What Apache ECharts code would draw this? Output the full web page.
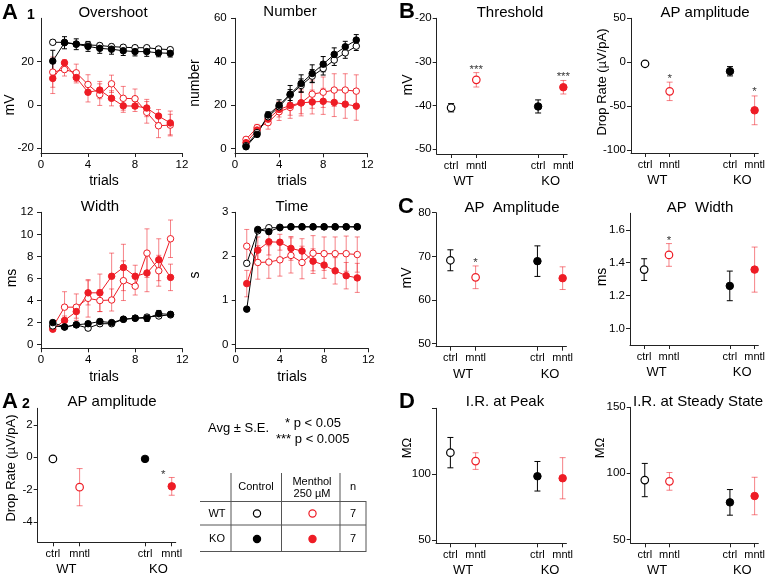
<!DOCTYPE html>
<html><head><meta charset="utf-8">
<script src="https://cdn.jsdelivr.net/npm/echarts@6/dist/echarts.min.js"></script>
<style>html,body{margin:0;padding:0;background:#fff}#c{width:768px;height:579px}</style>
</head><body><div id="c"></div>
<script>
// ---------------- DATA ----------------
const TRIALS = [1,2,3,4,5,6,7,8,9,10,11];

const overshootWTctrl   = [28.9, 28.9, 28.1, 27.7, 27.4, 26.9, 26.6, 26.4, 26.4, 25.8, 25.5];
const overshootWTctrlSE = [1.0, 1.0, 1.0, 1.0, 1.0, 1.0, 1.0, 1.0, 1.0, 1.0, 1.0];
const overshootKOctrl   = [20.2, 28.7, 28.0, 27.0, 26.1, 25.7, 25.0, 24.6, 24.6, 24.0, 23.8];
const overshootKOctrlSE = [5.0, 2.8, 2.5, 2.3, 2.3, 2.3, 2.2, 2.0, 2.2, 1.8, 1.7];
const overshootWTmntl   = [15.1, 16.3, 14.8, 9.4, 4.7, 9.7, 3.0, 2.8, -3.5, -9.7, -9.4];
const overshootWTmntlSE = [7.0, 3.0, 4.0, 4.5, 5.0, 4.0, 5.5, 4.5, 5.0, 5.5, 5.0];
const overshootKOmntl   = [12.2, 19.4, 12.6, 5.8, 6.8, 3.0, -0.5, -0.6, -1.5, -5.2, -8.4];
const overshootKOmntlSE = [7.0, 1.5, 2.5, 4.5, 4.0, 3.5, 3.0, 2.5, 4.0, 3.0, 5.5];

const numberWTctrl   = [1.4, 7.4, 14.7, 19.3, 24.7, 29.1, 33.4, 36.9, 40.8, 44.1, 47.2];
const numberWTctrlSE = [0.5, 1.0, 1.5, 2.0, 2.5, 3.0, 3.0, 3.0, 2.5, 2.5, 2.0];
const numberKOctrl   = [0.9, 6.6, 15.5, 20.0, 25.1, 30.0, 34.6, 38.9, 43.4, 46.9, 50.0];
const numberKOctrlSE = [0.5, 1.0, 1.5, 2.5, 4.0, 4.0, 4.0, 3.5, 3.0, 2.5, 2.5];
const numberWTmntl   = [4.3, 9.7, 12.0, 17.0, 19.0, 21.1, 25.1, 26.0, 27.0, 27.0, 26.5];
const numberWTmntlSE = [1.0, 1.5, 3.0, 4.0, 5.0, 6.0, 6.5, 7.0, 7.5, 7.5, 7.5];
const numberKOmntl   = [2.8, 8.6, 13.6, 18.1, 19.9, 21.1, 21.5, 21.8, 21.3, 20.5, 19.6];
const numberKOmntlSE = [1.0, 1.5, 2.5, 3.5, 4.5, 5.0, 5.5, 6.0, 6.5, 6.5, 6.5];

const widthWTctrl   = [1.7, 1.6, 1.8, 1.5, 1.9, 1.9, 2.3, 2.4, 2.5, 2.6, 2.7];
const widthWTctrlSE = [0.2, 0.2, 0.2, 0.2, 0.2, 0.2, 0.2, 0.2, 0.2, 0.2, 0.2];
const widthKOctrl   = [2.0, 1.6, 1.8, 1.9, 2.1, 2.0, 2.3, 2.4, 2.4, 2.8, 2.75];
const widthKOctrlSE = [0.2, 0.2, 0.2, 0.2, 0.2, 0.2, 0.2, 0.2, 0.3, 0.3, 0.2];
const widthWTmntl   = [1.6, 3.4, 3.4, 4.2, 4.0, 4.05, 5.8, 5.3, 8.3, 6.7, 9.6];
const widthWTmntlSE = [0.3, 1.4, 1.2, 1.7, 1.0, 1.0, 1.8, 0.8, 2.2, 1.4, 1.7];
const widthKOmntl   = [1.4, 2.2, 3.0, 4.7, 4.7, 6.2, 7.0, 6.2, 6.5, 7.7, 6.1];
const widthKOmntlSE = [0.2, 0.4, 0.6, 1.1, 1.7, 2.1, 2.1, 1.0, 1.7, 1.9, 1.2];

const timeWTctrl   = [1.84, 2.58, 2.65, 2.65, 2.67, 2.67, 2.67, 2.67, 2.67, 2.67, 2.67];
const timeWTctrlSE = [0.05, 0.03, 0.02, 0.02, 0.02, 0.02, 0.02, 0.02, 0.02, 0.02, 0.02];
const timeKOctrl   = [0.80, 2.61, 2.56, 2.66, 2.67, 2.67, 2.67, 2.67, 2.67, 2.67, 2.67];
const timeKOctrlSE = [0.03, 0.03, 0.03, 0.02, 0.02, 0.02, 0.02, 0.02, 0.02, 0.02, 0.02];
const timeWTmntl   = [2.23, 1.86, 1.87, 1.92, 2.02, 1.86, 2.07, 2.06, 2.06, 2.06, 2.04];
const timeWTmntlSE = [0.38, 0.38, 0.37, 0.37, 0.40, 0.37, 0.40, 0.38, 0.38, 0.40, 0.40];
const timeKOmntl   = [1.38, 2.14, 2.33, 2.32, 2.18, 2.12, 1.89, 1.80, 1.67, 1.56, 1.51];
const timeKOmntlSE = [0.30, 0.30, 0.30, 0.18, 0.27, 0.28, 0.28, 0.30, 0.30, 0.30, 0.33];

// summary panels: order = WT ctrl, WT mntl, KO ctrl, KO mntl
const CONDITIONS = ['ctrl', 'mntl', 'ctrl', 'mntl'];
const GENOTYPES = ['WT', 'KO'];

const a2Mean = [-0.1, -1.85, -0.1, -1.8];
const a2SE   = [0.05, 1.15, 0.05, 0.55];
const a2StarX = [5.13];
const a2StarY = [-0.89];
const a2StarText = ['*'];

const thresholdMean = [-40.5, -34.1, -40.2, -35.8];
const thresholdSE   = [0.95, 1.65, 1.5, 1.55];
const thresholdStarY = [null, -31.1, null, -32.7];
const thresholdStarText = ['', '***', '', '***'];

const dropMean = [-1.8, -33.2, -10.3, -54.8];
const dropSE   = [1.0, 10.5, 5.3, 16.4];
const dropStarY = [null, -15.0, null, -30.2];
const dropStarText = ['', '*', '', '*'];

const ampMean = [69.1, 65.2, 68.9, 65.0];
const ampSE   = [2.4, 2.6, 3.5, 2.6];
const ampStarY = [null, 69.3, null, null];
const ampStarText = ['', '*', '', ''];

const apWidthMean = [1.358, 1.447, 1.259, 1.358];
const apWidthSE   = [0.066, 0.069, 0.09, 0.137];
const apWidthStarY = [null, 1.55, null, null];
const apWidthStarText = ['', '*', '', ''];

const irPeakMean = [116.4, 110.0, 98.5, 97.0];
const irPeakSE   = [11.5, 6.3, 11.2, 15.6];

const irSteadyMean = [94.9, 93.9, 78.0, 82.8];
const irSteadySE   = [12.6, 6.7, 9.7, 14.2];

// ---------------- STYLE / LAYOUT ----------------
const FONT = '"Liberation Sans", Arial, sans-serif';
const RED = '#ee1c25';
const RED_ERR = 'rgba(238,28,37,0.55)';
const BLK = '#000';
const AX = '#222';
const X_POS = [1, 2, 4.45, 5.45];
const GROUP_POS = [1.5, 4.95];
const XMIN = 0.43, XMAX = 5.6;

const grids = [], xAxes = [], yAxes = [], series = [], graphics = [];

function nearestIdx(arr, v) {
  let b = 0;
  arr.forEach((a, i) => { if (Math.abs(a - v) < Math.abs(arr[b] - v)) b = i; });
  return b;
}

function errSeries(xi, yi, xs, mean, se, colors, cap) {
  return {
    type: 'custom', xAxisIndex: xi, yAxisIndex: yi, silent: true, animation: false, z: 2,
    data: xs.map((x, i) => [x, mean[i] - se[i], mean[i] + se[i], i]),
    encode: { x: 0, y: [1, 2] },
    renderItem: (params, api) => {
      const x = api.value(0);
      const p1 = api.coord([x, api.value(1)]);
      const p2 = api.coord([x, api.value(2)]);
      const col = Array.isArray(colors) ? colors[api.value(3)] : colors;
      const st = { stroke: col, lineWidth: 1 };
      return { type: 'group', children: [
        { type: 'line', shape: { x1: p1[0], y1: p1[1], x2: p2[0], y2: p2[1] }, style: st },
        { type: 'line', shape: { x1: p1[0] - cap, y1: p1[1], x2: p1[0] + cap, y2: p1[1] }, style: st },
        { type: 'line', shape: { x1: p2[0] - cap, y1: p2[1], x2: p2[0] + cap, y2: p2[1] }, style: st }
      ]};
    }
  };
}

function yAxisDef(gi, p) {
  return {
    gridIndex: gi, type: 'value', min: p.ymin, max: p.ymax, offset: p.yoff || 0,
    axisLine: { show: true, lineStyle: { color: AX, width: 1 } },
    axisTick: { show: true, length: 4, customValues: p.ticks, lineStyle: { color: AX } },
    axisLabel: { customValues: p.labels || p.ticks, margin: 5, fontSize: 11.5, color: '#000', fontFamily: FONT,
      formatter: v => p.dec ? v.toFixed(p.dec) : String(v) },
    splitLine: { show: false }
  };
}

function linePanel(p) {
  const gi = grids.length;
  grids.push({ left: p.left, top: p.top, width: p.width, height: p.height });
  const xi = xAxes.length;
  xAxes.push({
    gridIndex: gi, type: 'value', min: 0, max: 12, interval: 4,
    axisLine: { show: true, onZero: false, lineStyle: { color: AX, width: 1 } },
    axisTick: { show: true, length: 4, lineStyle: { color: AX } },
    axisLabel: { margin: 6, fontSize: 11.5, color: '#000', fontFamily: FONT },
    splitLine: { show: false }
  });
  const yi = yAxes.length;
  yAxes.push(yAxisDef(gi, p));
  p.groups.forEach(g => {
    series.push(errSeries(xi, yi, TRIALS, g.vals, g.se, g.red ? RED_ERR : BLK, 2.5));
    series.push({
      type: 'line', xAxisIndex: xi, yAxisIndex: yi, animation: false, z: 2,
      data: TRIALS.map((t, i) => [t, g.vals[i]]),
      symbol: 'circle', symbolSize: 6.5, showSymbol: true,
      lineStyle: { color: g.red ? RED : BLK, width: 1 },
      itemStyle: { color: g.open ? '#fff' : (g.red ? RED : BLK), borderColor: g.red ? RED : BLK, borderWidth: 1, opacity: 1 }
    });
  });
}

const PT_STYLE = [
  { color: '#fff', borderColor: BLK, borderWidth: 1.2, opacity: 1 },
  { color: '#fff', borderColor: RED, borderWidth: 1.2, opacity: 1 },
  { color: BLK, borderColor: BLK, borderWidth: 1, opacity: 1 },
  { color: RED, borderColor: RED, borderWidth: 1, opacity: 1 }
];
const ERR_COL = [BLK, RED_ERR, BLK, RED_ERR];

function dotPanel(p) {
  const gi = grids.length;
  const w = (XMAX - XMIN) * p.unit;
  grids.push({ left: p.left, top: p.top, width: w, height: p.height });
  const xi = xAxes.length;
  xAxes.push({
    gridIndex: gi, type: 'value', min: XMIN, max: XMAX,
    axisLine: { show: true, onZero: false, lineStyle: { color: AX, width: 1 } },
    axisTick: { show: true, length: 4, customValues: X_POS, lineStyle: { color: AX } },
    axisLabel: { customValues: X_POS, formatter: v => CONDITIONS[nearestIdx(X_POS, v)], margin: 6, fontSize: 11, color: '#000', fontFamily: FONT },
    splitLine: { show: false }
  });
  xAxes.push({
    gridIndex: gi, type: 'value', min: XMIN, max: XMAX, position: 'bottom', offset: 14,
    axisLine: { show: false }, axisTick: { show: false },
    axisLabel: { customValues: GROUP_POS, formatter: v => GENOTYPES[nearestIdx(GROUP_POS, v)], margin: 7, fontSize: 13, color: '#000', fontFamily: FONT },
    splitLine: { show: false }
  });
  const yi = yAxes.length;
  yAxes.push(yAxisDef(gi, p));
  series.push(errSeries(xi, yi, X_POS, p.mean, p.se, ERR_COL, 3));
  series.push({
    type: 'scatter', xAxisIndex: xi, yAxisIndex: yi, animation: false, z: 3, symbol: 'circle', symbolSize: 7.5,
    data: X_POS.map((x, i) => ({ value: [x, p.mean[i]], itemStyle: PT_STYLE[i] }))
  });
  if (p.starX) {
    series.push({
      type: 'scatter', xAxisIndex: xi, yAxisIndex: yi, animation: false, z: 4, symbolSize: 0,
      data: p.starX.map((x, i) => p.starY[i] == null ? null : ({ value: [x, p.starY[i]], label: { formatter: p.starText[i] } })).filter(d => d),
      label: { show: true, position: 'inside', offset: [0, 3], fontSize: 11.5, color: '#000', fontFamily: FONT }
    });
  }
}

// ---------------- PANELS ----------------
linePanel({ left: 41, top: 18.3, width: 141, height: 134.7, ymin: -22.3, ymax: 40, yoff: 2, ticks: [-20, 0, 20],
  groups: [
    { vals: overshootWTmntl, se: overshootWTmntlSE, red: true, open: true },
    { vals: overshootKOmntl, se: overshootKOmntlSE, red: true, open: false },
    { vals: overshootWTctrl, se: overshootWTctrlSE, red: false, open: true },
    { vals: overshootKOctrl, se: overshootKOctrlSE, red: false, open: false }
  ]});
linePanel({ left: 235, top: 18.3, width: 132.3, height: 135, ymin: -2.1, ymax: 60, yoff: 3.3, ticks: [0, 20, 40, 60],
  groups: [
    { vals: numberWTmntl, se: numberWTmntlSE, red: true, open: true },
    { vals: numberKOmntl, se: numberKOmntlSE, red: true, open: false },
    { vals: numberWTctrl, se: numberWTctrlSE, red: false, open: true },
    { vals: numberKOctrl, se: numberKOctrlSE, red: false, open: false }
  ]});
linePanel({ left: 41, top: 212.3, width: 141.3, height: 136, ymin: -0.33, ymax: 12, yoff: 2.7, ticks: [0, 2, 4, 6, 8, 10, 12],
  groups: [
    { vals: widthWTmntl, se: widthWTmntlSE, red: true, open: true },
    { vals: widthKOmntl, se: widthKOmntlSE, red: true, open: false },
    { vals: widthWTctrl, se: widthWTctrlSE, red: false, open: true },
    { vals: widthKOctrl, se: widthKOctrlSE, red: false, open: false }
  ]});
linePanel({ left: 235.7, top: 212.3, width: 132.6, height: 136, ymin: -0.09, ymax: 3, yoff: 2.4, ticks: [0, 1, 2, 3],
  groups: [
    { vals: timeWTmntl, se: timeWTmntlSE, red: true, open: true },
    { vals: timeKOmntl, se: timeKOmntlSE, red: true, open: false },
    { vals: timeWTctrl, se: timeWTctrlSE, red: false, open: true },
    { vals: timeKOctrl, se: timeKOctrlSE, red: false, open: false }
  ]});

dotPanel({ left: 37.7, top: 408.3, unit: 26.7, height: 134, ymin: -5.26, ymax: 3.03, ticks: [-4, -2, 0, 2],
  mean: a2Mean, se: a2SE, starX: a2StarX, starY: a2StarY, starText: a2StarText });
dotPanel({ left: 436.7, top: 18.3, unit: 25.23, height: 135.7, ymin: -51.1, ymax: -20, ticks: [-50, -40, -30, -20],
  mean: thresholdMean, se: thresholdSE, starX: X_POS, starY: thresholdStarY, starText: thresholdStarText });
dotPanel({ left: 631, top: 18.3, unit: 25.23, height: 134.7, ymin: -103.4, ymax: 50, ticks: [-100, -50, 0, 50],
  mean: dropMean, se: dropSE, starX: X_POS, starY: dropStarY, starText: dropStarText });
dotPanel({ left: 436, top: 212.7, unit: 25.23, height: 134, ymin: 49.3, ymax: 80, ticks: [50, 60, 70, 80],
  mean: ampMean, se: ampSE, starX: X_POS, starY: ampStarY, starText: ampStarText });
dotPanel({ left: 630, top: 213.3, unit: 25.23, height: 131.7, ymin: 0.9, ymax: 1.7, ticks: [1.0, 1.2, 1.4, 1.6], dec: 1,
  mean: apWidthMean, se: apWidthSE, starX: X_POS, starY: apWidthStarY, starText: apWidthStarText });
dotPanel({ left: 436, top: 408.3, unit: 25.23, height: 135, ymin: 47.7, ymax: 150, ticks: [50, 100, 150], labels: [50, 100],
  mean: irPeakMean, se: irPeakSE });
dotPanel({ left: 630.7, top: 407.3, unit: 25.23, height: 136, ymin: 47, ymax: 150, ticks: [50, 100, 150],
  mean: irSteadyMean, se: irSteadySE });

// ---------------- TEXT ----------------
function txt(x, y, s, o) {
  o = o || {};
  graphics.push({
    type: 'text', x: x, y: y, rotation: o.rot ? Math.PI / 2 : 0, silent: true,
    style: { text: s, fill: '#000', font: (o.bold ? 'bold ' : '') + (o.size || 15) + 'px ' + FONT,
      textAlign: o.align || 'center', textVerticalAlign: 'middle' }
  });
}
// titles
txt(113, 13, 'Overshoot'); txt(290, 12, 'Number'); txt(100, 207, 'Width'); txt(292, 207, 'Time');
txt(112, 402, 'AP amplitude'); txt(510, 13, 'Threshold'); txt(705, 13, 'AP amplitude');
txt(512, 208, 'AP  Amplitude'); txt(700, 208, 'AP  Width'); txt(505, 402, 'I.R. at Peak'); txt(698, 402, 'I.R. at Steady State');
// panel letters
txt(2, 13, 'A', { bold: true, size: 22, align: 'left' }); txt(27, 15, '1', { bold: true, size: 14, align: 'left' });
txt(2, 402, 'A', { bold: true, size: 22, align: 'left' }); txt(22, 404, '2', { bold: true, size: 14, align: 'left' });
txt(399, 12, 'B', { bold: true, size: 22, align: 'left' });
txt(398, 207, 'C', { bold: true, size: 22, align: 'left' });
txt(399, 402, 'D', { bold: true, size: 22, align: 'left' });
// axis names
txt(10, 105, 'mV', { rot: true, size: 14 }); txt(195, 83, 'number', { rot: true, size: 14 });
txt(12, 278, 'ms', { rot: true, size: 14 }); txt(195, 275, 's', { rot: true, size: 14 });
txt(11, 468, 'Drop Rate (µV/pA)', { rot: true, size: 13 });
txt(408, 85, 'mV', { rot: true, size: 14 }); txt(602, 82, 'Drop Rate (µV/pA)', { rot: true, size: 13 });
txt(407, 278, 'mV', { rot: true, size: 14 }); txt(602, 277, 'ms', { rot: true, size: 14 });
txt(407, 448, 'MΩ', { rot: true, size: 13 }); txt(600, 448, 'MΩ', { rot: true, size: 13 });
txt(104, 181, 'trials', { size: 14 }); txt(292, 181, 'trials', { size: 14 });
txt(104, 377, 'trials', { size: 14 }); txt(292, 377, 'trials', { size: 14 });
// stats note
txt(208, 428, 'Avg ± S.E.', { size: 13, align: 'left' });
txt(285, 423, '* p < 0.05', { size: 13, align: 'left' });
txt(276, 439, '*** p < 0.005', { size: 13, align: 'left' });
// table
const TL = '#555';
function ln(x1, y1, x2, y2) { graphics.push({ type: 'line', silent: true, shape: { x1, y1, x2, y2 }, style: { stroke: TL, lineWidth: 1 } }); }
ln(200, 501.5, 366, 501.5); ln(200, 525, 366, 525); ln(200, 551.5, 366, 551.5);
ln(231, 473, 231, 552); ln(281.5, 473, 281.5, 552); ln(340, 473, 340, 552); ln(366, 501, 366, 552);
txt(256, 487, 'Control', { size: 11 }); txt(312, 481.5, 'Menthol', { size: 11 }); txt(312, 493.5, '250 µM', { size: 11 });
txt(353, 487, 'n', { size: 11 });
txt(217, 513.5, 'WT', { size: 11 }); txt(217, 539, 'KO', { size: 11 });
txt(353, 513.5, '7', { size: 11 }); txt(353, 539, '7', { size: 11 });
function circ(x, y, fill, stroke) { graphics.push({ type: 'circle', silent: true, shape: { cx: x, cy: y, r: 3.6 }, style: { fill, stroke, lineWidth: 1.2 } }); }
circ(257, 513.5, '#fff', BLK); circ(312.5, 513.5, '#fff', RED);
circ(257, 539, BLK, BLK); circ(312.5, 539, RED, RED);

const chart = echarts.init(document.getElementById('c'), null, { renderer: 'canvas' });
chart.setOption({
  animation: false, backgroundColor: '#fff',
  grid: grids, xAxis: xAxes, yAxis: yAxes, series: series, graphic: graphics
});
</script></body></html>
